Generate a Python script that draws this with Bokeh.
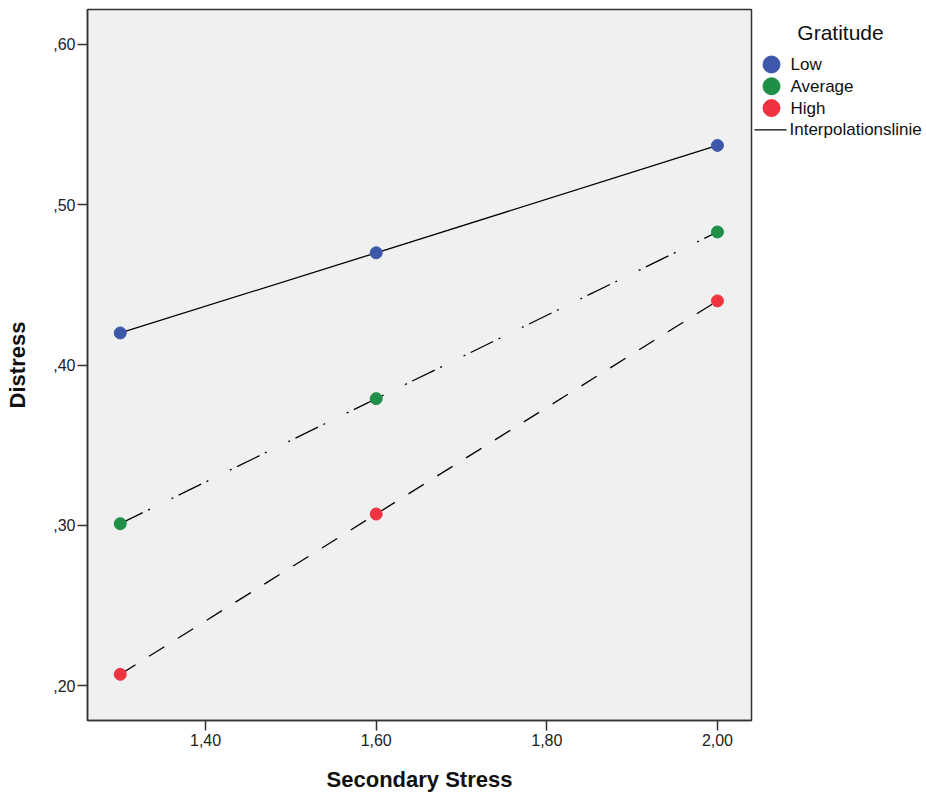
from bokeh.plotting import figure
from bokeh.models import Range1d, FixedTicker, ColumnDataSource
from bokeh.layouts import row
from bokeh.core.properties import value
from bokeh.embed import file_html
from bokeh.resources import INLINE

# ---- data ----
secondary_stress = [1.30, 1.60, 2.00]
distress_low = [0.420, 0.470, 0.537]
distress_average = [0.301, 0.379, 0.483]
distress_high = [0.207, 0.307, 0.440]

group_names = ["Low", "Average", "High"]
group_colors = ["#3d57ab", "#1f8f48", "#ef3340"]
group_dashes = ["solid", "25 6 2 24 2 6", "18 16"]

x_ticks = [1.40, 1.60, 1.80, 2.00]
x_tick_labels = ["1,40", "1,60", "1,80", "2,00"]
y_ticks = [0.20, 0.30, 0.40, 0.50, 0.60]
y_tick_labels = [",20", ",30", ",40", ",50", ",60"]

legend_title = "Gratitude"
legend_line_label = "Interpolationslinie"

FONT = "Liberation Sans"
FRAME = "#333333"
H = 796
FRAME_TOP, FRAME_BOTTOM = 9, 720

p = figure(width=753, height=H, output_backend="svg", toolbar_location=None,
           x_range=Range1d(1.2616, 2.0399), y_range=Range1d(0.1782, 0.6218),
           min_border_left=87, min_border_right=2, min_border_top=FRAME_TOP,
           min_border_bottom=H - FRAME_BOTTOM)
p.background_fill_color = "#f0f0f0"
p.border_fill_color = "white"
p.outline_line_color = FRAME
p.outline_line_width = 1.5
p.grid.visible = False

series = [distress_low, distress_average, distress_high]
for vals, dash in zip(series, group_dashes):
    src = ColumnDataSource(dict(x=secondary_stress, y=vals))
    p.line("x", "y", source=src, line_color="black", line_width=1.3, line_dash=dash)
for vals, col in zip(series, group_colors):
    src = ColumnDataSource(dict(x=secondary_stress, y=vals))
    p.scatter("x", "y", source=src, size=12, fill_color=col, line_color=col, marker="circle")

for ax in (p.xaxis[0], p.yaxis[0]):
    ax.axis_line_color = FRAME
    ax.axis_line_width = 1.5
    ax.major_tick_line_color = FRAME
    ax.major_tick_line_width = 1.5
    ax.major_tick_out = 10
    ax.major_tick_in = 0
    ax.minor_tick_line_color = None
    ax.major_label_text_font = FONT
    ax.major_label_text_font_size = "16px"
    ax.major_label_text_color = "#222222"
    ax.axis_label_text_font = FONT
    ax.axis_label_text_font_size = "22px"
    ax.axis_label_text_font_style = "bold"
    ax.axis_label_text_color = "#111111"

p.xaxis.ticker = FixedTicker(ticks=x_ticks)
p.xaxis.major_label_overrides = dict(zip(x_ticks, x_tick_labels))
p.yaxis.ticker = FixedTicker(ticks=y_ticks)
p.yaxis.major_label_overrides = dict(zip(y_ticks, y_tick_labels))
p.xaxis.axis_label = "Secondary Stress"
p.yaxis.axis_label = "Distress"
p.xaxis.major_label_standoff = 3
p.yaxis.major_label_standoff = 2
p.xaxis.axis_label_standoff = 18
p.yaxis.axis_label_standoff = 20

# ---- legend panel (separate figure; its frame is aligned with the main frame) ----
LW = 170
leg = figure(width=LW, height=H, output_backend="svg", toolbar_location=None,
             x_range=Range1d(0, LW), y_range=Range1d(FRAME_BOTTOM, FRAME_TOP),
             min_border=0, min_border_top=FRAME_TOP, min_border_bottom=H - FRAME_BOTTOM,
             outline_line_color=None)
leg.axis.visible = False
leg.grid.visible = False
leg.background_fill_color = "white"
leg.border_fill_color = "white"

row_y0, row_pitch = 64, 21.8
rows_y = [row_y0 + i * row_pitch for i in range(len(group_names))]
leg.text(x=[87], y=[32], text=[legend_title], text_font=value(FONT), text_font_size="21px",
         text_align="center", text_baseline="middle", text_color="#111111")
leg.scatter(x=[18] * len(group_names), y=rows_y, size=17, marker="circle",
            fill_color=group_colors, line_color=group_colors)
leg.text(x=[37] * len(group_names), y=rows_y, text=group_names, text_font=value(FONT),
         text_font_size="17px", text_align="left", text_baseline="middle", text_color="#111111")
line_y = row_y0 + len(group_names) * row_pitch
leg.line(x=[1, 33], y=[line_y, line_y], line_color="black", line_width=1.3)
leg.text(x=[36], y=[line_y], text=[legend_line_label], text_font=value(FONT),
         text_font_size="17px", text_align="left", text_baseline="middle", text_color="#111111")

layout = row(p, leg, spacing=0)
open("out.html", "w").write(file_html(layout, INLINE))
